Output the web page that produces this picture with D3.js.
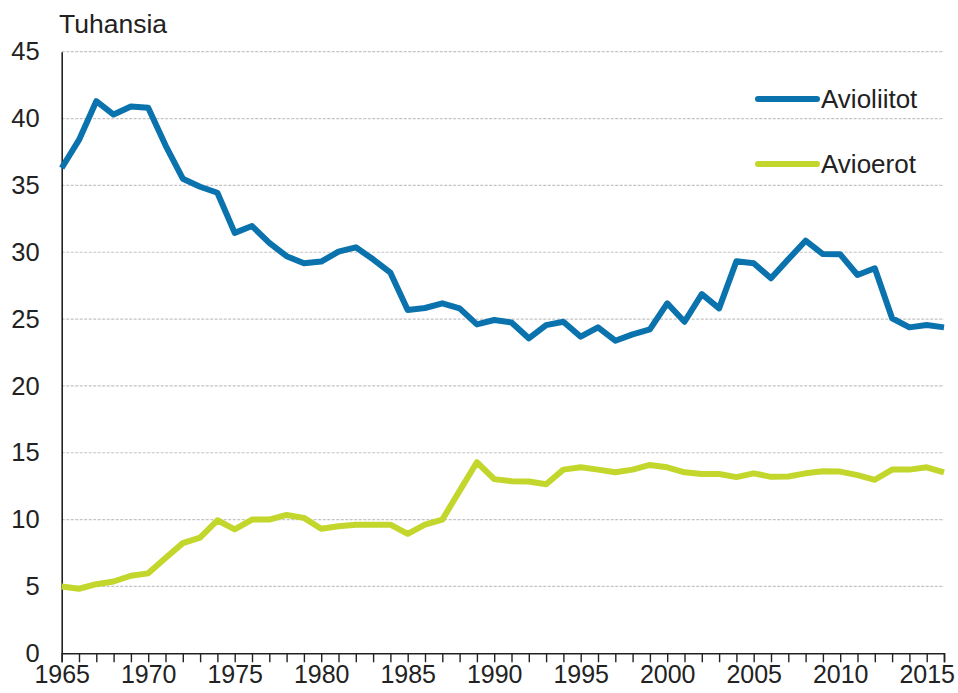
<!DOCTYPE html>
<html><head><meta charset="utf-8">
<script src="https://cdn.jsdelivr.net/npm/d3@7"></script>
<style>html,body{margin:0;padding:0;background:#fff;}svg{display:block;}</style>
</head><body>
<script>
const years = d3.range(1965, 2017);
const avioliitot = [36.3,38.4,41.3,40.3,40.9,40.8,38.0,35.5,34.9,34.45,31.45,31.96,30.7,29.7,29.17,29.3,30.04,30.37,29.47,28.47,25.68,25.83,26.18,25.8,24.6,24.93,24.75,23.56,24.55,24.8,23.68,24.38,23.38,23.86,24.23,26.18,24.8,26.87,25.8,29.33,29.17,28.05,29.47,30.86,29.86,29.84,28.3,28.8,25.06,24.38,24.55,24.38];
const avioerot = [5.0,4.83,5.17,5.37,5.8,5.98,7.12,8.24,8.66,9.95,9.27,10.0,10.0,10.35,10.13,9.32,9.5,9.62,9.62,9.62,8.94,9.62,10.0,12.15,14.29,13.03,12.87,12.85,12.65,13.74,13.91,13.74,13.54,13.74,14.09,13.91,13.54,13.41,13.41,13.18,13.46,13.2,13.23,13.46,13.61,13.59,13.33,12.98,13.74,13.74,13.91,13.54];
const yTicks = [0,5,10,15,20,25,30,35,40,45];
const xLabels = [1965,1970,1975,1980,1985,1990,1995,2000,2005,2010,2015];
const seriesNames = ["Avioliitot","Avioerot"];
const colors = ["#0a72ad","#c2d62c"];

const W = 958, H = 693;
const m = {left: 61.7, right: 944, top: 51.7, bottom: 653.3};
const font = "'Liberation Sans', Arial, sans-serif";

const svg = d3.select("body").append("svg").attr("width", W).attr("height", H);
const x = d3.scaleLinear().domain([1965, 2016]).range([m.left, m.right]);
const y = d3.scaleLinear().domain([0, 45]).range([m.bottom, m.top]);

// gridlines
svg.append("g").selectAll("line").data(yTicks.filter(d => d > 0)).join("line")
  .attr("x1", m.left).attr("x2", m.right)
  .attr("y1", d => y(d)).attr("y2", d => y(d))
  .attr("stroke", "#c4c4c4").attr("stroke-width", 1.2).attr("stroke-dasharray", "3,1.5");

// y axis
const yAxis = svg.append("g").attr("transform", `translate(${m.left},0)`)
  .call(d3.axisLeft(y).tickValues(yTicks).tickSize(0).tickPadding(22));
yAxis.select(".domain").attr("stroke", "#222").attr("stroke-width", 1.6);
yAxis.selectAll("text").attr("font-family", font).attr("font-size", 25.5).attr("fill", "#222");

// x axis
const xAxis = svg.append("g").attr("transform", `translate(0,${m.bottom})`)
  .call(d3.axisBottom(x).tickValues(years).tickSize(9).tickPadding(3)
    .tickFormat(d => xLabels.includes(d) ? String(d) : ""));
xAxis.select(".domain").attr("stroke", "#222").attr("stroke-width", 1.6);
xAxis.selectAll("line").attr("stroke", "#222").attr("stroke-width", 1.4);
xAxis.selectAll("text").attr("font-family", font).attr("font-size", 25).attr("fill", "#222");

// lines
const data = [avioliitot, avioerot];
const line = d3.line().x((d, i) => x(years[i])).y(d => y(d));
svg.append("g").selectAll("path").data(data).join("path")
  .attr("d", line).attr("fill", "none")
  .attr("stroke", (d, i) => colors[i]).attr("stroke-width", 6)
  .attr("stroke-linejoin", "round").attr("stroke-linecap", "butt");

// title
svg.append("text").attr("x", 59).attr("y", 33).text("Tuhansia")
  .attr("font-family", font).attr("font-size", 26.5).attr("fill", "#222");

// legend
const lg = svg.append("g").selectAll("g").data(seriesNames).join("g")
  .attr("transform", (d, i) => `translate(758,${99 + i * 65})`);
lg.append("line").attr("x1", 0).attr("x2", 59).attr("y1", 0).attr("y2", 0)
  .attr("stroke", (d, i) => colors[i]).attr("stroke-width", 6).attr("stroke-linecap", "round");
lg.append("text").attr("x", 63).attr("y", 9).text(d => d)
  .attr("font-family", font).attr("font-size", 26).attr("fill", "#222");
</script>
</body></html>
